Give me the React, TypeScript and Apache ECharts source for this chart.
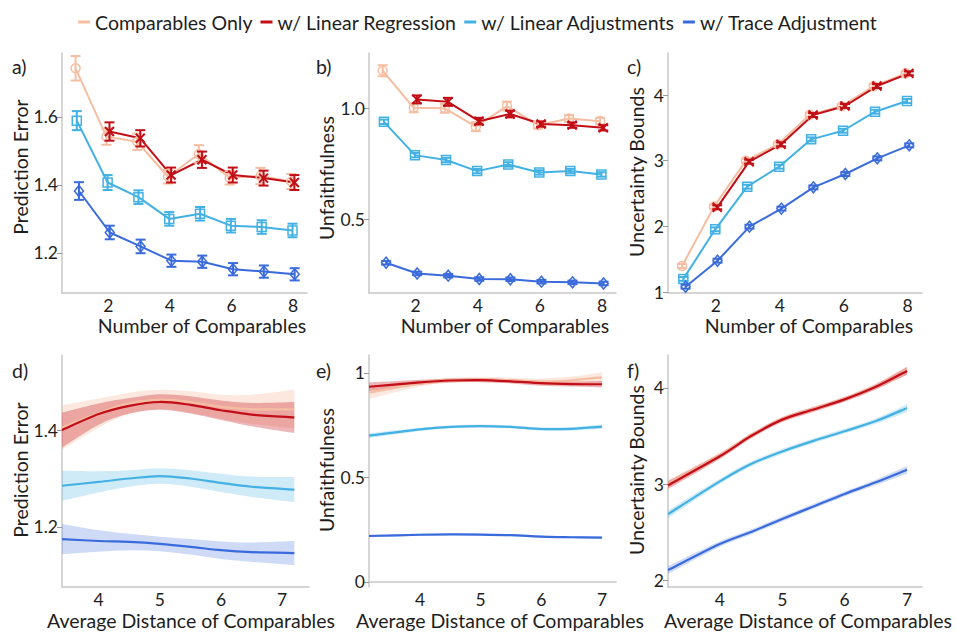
import React, { useEffect, useRef } from 'react';
import * as echarts from 'echarts';

const FONT = 'Lato, "Open Sans", sans-serif';
const TXT = '#1e1e1e';
const AXIS = '#c8c8c8';

const SERIES_NAMES = ['Comparables Only', 'w/ Linear Regression', 'w/ Linear Adjustments', 'w/ Trace Adjustment'];
const COLORS = ['#f5bea2', '#c20e17', '#43b1e3', '#3a6bdc'];
const BAND_ALPHA = [0.35, 0.3, 0.25, 0.25];
const SHAPES = ['circle', 'cross', 'square', 'diamond'];
const DODGE = [-0.06, 0.04, -0.02, 0.05];

// Top row: number of comparables
const N_COMP = [1, 2, 3, 4, 5, 6, 7, 8];

// a) Prediction error
const A_COMP = [1.743, 1.542, 1.527, 1.424, 1.491, 1.421, 1.426, 1.41];
const A_LR = [null, 1.557, 1.537, 1.429, 1.474, 1.429, 1.42, 1.407];
const A_LADJ = [1.589, 1.407, 1.364, 1.3, 1.315, 1.28, 1.276, 1.266];
const A_TRACE = [1.382, 1.26, 1.219, 1.177, 1.174, 1.152, 1.145, 1.137];
const A_COMP_ERR = [0.036, 0.024, 0.024, 0.02, 0.026, 0.02, 0.024, 0.022];
const A_LR_ERR = [0, 0.027, 0.024, 0.022, 0.024, 0.022, 0.022, 0.022];
const A_LADJ_ERR = [0.028, 0.022, 0.02, 0.02, 0.02, 0.02, 0.02, 0.02];
const A_TRACE_ERR = [0.026, 0.02, 0.02, 0.018, 0.018, 0.018, 0.018, 0.018];

// b) Unfaithfulness
const B_COMP = [1.168, 1.001, 0.999, 0.916, 1.009, 0.923, 0.953, 0.941];
const B_LR = [null, 1.039, 1.028, 0.941, 0.973, 0.928, 0.923, 0.911];
const B_LADJ = [0.938, 0.788, 0.766, 0.716, 0.746, 0.71, 0.716, 0.701];
const B_TRACE = [0.303, 0.255, 0.245, 0.23, 0.229, 0.218, 0.215, 0.21];
const B_COMP_ERR = [0.025, 0.02, 0.02, 0.02, 0.02, 0.015, 0.015, 0.015];
const B_LR_ERR = [0, 0.018, 0.018, 0.015, 0.015, 0.012, 0.012, 0.012];
const B_LADJ_ERR = [0.01, 0.01, 0.01, 0.01, 0.01, 0.01, 0.01, 0.01];
const B_TRACE_ERR = [0.008, 0.008, 0.008, 0.008, 0.008, 0.008, 0.008, 0.008];

// c) Uncertainty bounds
const C_COMP = [1.396, 2.3, 3.0, 3.25, 3.7, 3.83, 4.135, 4.33];
const C_LR = [null, 2.29, 2.985, 3.249, 3.695, 3.833, 4.137, 4.33];
const C_LADJ = [1.2, 1.955, 2.604, 2.909, 3.325, 3.456, 3.746, 3.909];
const C_TRACE = [1.081, 1.477, 1.995, 2.27, 2.594, 2.797, 3.036, 3.234];
const C_ERR = [0.03, 0.03, 0.03, 0.03, 0.03, 0.03, 0.03, 0.03];

// Bottom row: average distance of comparables
// d) Prediction error
const D_X = [3.4, 4, 4.5, 5, 5.5, 6, 6.5, 7.2];
const D_COMP = [1.405, 1.435, 1.455, 1.463, 1.458, 1.448, 1.443, 1.443];
const D_LR = [1.4, 1.433, 1.45, 1.458, 1.452, 1.441, 1.432, 1.426];
const D_LADJ = [1.285, 1.293, 1.3, 1.305, 1.3, 1.291, 1.283, 1.277];
const D_TRACE = [1.175, 1.171, 1.169, 1.165, 1.159, 1.152, 1.148, 1.146];
const D_COMP_BAND = [0.046, 0.03, 0.022, 0.02, 0.022, 0.025, 0.03, 0.04];
const D_LR_BAND = [0.036, 0.022, 0.016, 0.016, 0.018, 0.02, 0.024, 0.032];
const D_LADJ_BAND = [0.031, 0.022, 0.017, 0.016, 0.017, 0.019, 0.021, 0.026];
const D_TRACE_BAND = [0.031, 0.022, 0.017, 0.015, 0.016, 0.018, 0.02, 0.025];

// e) Unfaithfulness
const E_X = [3.16, 4, 4.5, 5, 5.5, 6, 6.5, 7];
const E_COMP = [0.906, 0.95, 0.965, 0.969, 0.965, 0.958, 0.965, 0.979];
const E_LR = [0.934, 0.955, 0.964, 0.966, 0.96, 0.951, 0.947, 0.946];
const E_LADJ = [0.7, 0.73, 0.742, 0.746, 0.742, 0.732, 0.733, 0.743];
const E_TRACE = [0.22, 0.226, 0.228, 0.227, 0.224, 0.217, 0.214, 0.212];
const E_COMP_BAND = [0.03, 0.015, 0.012, 0.012, 0.012, 0.015, 0.018, 0.025];
const E_LR_BAND = [0.02, 0.012, 0.01, 0.01, 0.01, 0.012, 0.012, 0.016];
const E_LADJ_BAND = [0.012, 0.008, 0.007, 0.007, 0.007, 0.008, 0.008, 0.01];
const E_TRACE_BAND = [0.006, 0.005, 0.005, 0.005, 0.005, 0.005, 0.005, 0.006];

// f) Uncertainty bounds
const F_X = [3.17, 4, 4.5, 5, 5.5, 6, 6.5, 7];
const F_COMP = [3.0, 3.3, 3.505, 3.675, 3.78, 3.885, 4.015, 4.18];
const F_LR = [2.99, 3.29, 3.5, 3.67, 3.775, 3.88, 4.01, 4.175];
const F_LADJ = [2.69, 3.03, 3.21, 3.34, 3.45, 3.55, 3.655, 3.79];
const F_TRACE = [2.11, 2.38, 2.505, 2.64, 2.77, 2.9, 3.02, 3.15];
const F_BAND = [0.04, 0.028, 0.025, 0.025, 0.025, 0.025, 0.028, 0.04];

// Tick labels
const TOP_X_TICKS = [2, 4, 6, 8];
const BOT_X_TICKS = [4, 5, 6, 7];
const A_Y_TICKS = [1.2, 1.4, 1.6];
const B_Y_TICKS = [0.5, 1.0];
const C_Y_TICKS = [1, 2, 3, 4];
const D_Y_TICKS = [1.2, 1.4];
const E_Y_TICKS = [0, 0.5, 1];
const F_Y_TICKS = [2, 3, 4];

const GRIDS = [
  { left: 62, top: 53, width: 245, height: 240 },
  { left: 369, top: 53, width: 247, height: 240 },
  { left: 668, top: 53, width: 254, height: 240 },
  { left: 62, top: 355, width: 247, height: 232 },
  { left: 369, top: 355, width: 247, height: 232 },
  { left: 668, top: 355, width: 254, height: 232 },
];

function rgba(hex: string, a: number) {
  const n = parseInt(hex.slice(1), 16);
  return `rgba(${(n >> 16) & 255},${(n >> 8) & 255},${n & 255},${a})`;
}

function xAxis(g: number, min: number, max: number, ticks: number[]) {
  return {
    type: 'value', gridIndex: g, min, max,
    axisLine: { show: true, lineStyle: { color: AXIS, width: 1.5 } },
    axisTick: { show: false },
    splitLine: { show: false },
    axisLabel: { customValues: ticks, fontSize: 17.5, color: TXT, fontFamily: FONT, margin: 3 },
  };
}

function yAxis(g: number, min: number, max: number, ticks: number[], fmt: (v: number) => string) {
  return {
    type: 'value', gridIndex: g, min, max,
    axisLine: { show: true, lineStyle: { color: AXIS, width: 1.5 } },
    axisTick: { show: true, length: 5, customValues: ticks, lineStyle: { color: '#999', width: 1 } },
    splitLine: { show: false },
    axisLabel: { customValues: ticks, fontSize: 17.5, color: TXT, fontFamily: FONT, margin: 4, formatter: fmt },
  };
}

function markerSeries(g: number, ys: (number | null)[], errs: number[], k: number) {
  const color = COLORS[k];
  const shape = SHAPES[k];
  const data: number[][] = [];
  N_COMP.forEach((x, i) => {
    const y = ys[i];
    if (y == null) return;
    data.push([x + DODGE[k], y, y - errs[i], y + errs[i]]);
  });
  return {
    type: 'custom', xAxisIndex: g, yAxisIndex: g, z: 5, silent: true,
    data, encode: { x: 0, y: [1, 2, 3] },
    renderItem: (_p: any, api: any) => {
      const x = api.value(0), y = api.value(1), lo = api.value(2), hi = api.value(3);
      const c = api.coord([x, y]);
      const l = api.coord([x, lo]);
      const h = api.coord([x, hi]);
      const cap = 5;
      const s = 4.5;
      const st = { stroke: color, lineWidth: 2 };
      const ms = { stroke: color, lineWidth: 1.5, fill: 'none' };
      const children: any[] = [
        { type: 'line', shape: { x1: c[0], y1: l[1], x2: c[0], y2: h[1] }, style: st },
        { type: 'line', shape: { x1: c[0] - cap, y1: l[1], x2: c[0] + cap, y2: l[1] }, style: st },
        { type: 'line', shape: { x1: c[0] - cap, y1: h[1], x2: c[0] + cap, y2: h[1] }, style: st },
      ];
      if (shape === 'circle') {
        children.push({ type: 'circle', shape: { cx: c[0], cy: c[1], r: s }, style: ms });
      } else if (shape === 'square') {
        children.push({ type: 'rect', shape: { x: c[0] - s, y: c[1] - s, width: 2 * s, height: 2 * s }, style: ms });
      } else if (shape === 'diamond') {
        children.push({
          type: 'polygon',
          shape: { points: [[c[0], c[1] - s - 1], [c[0] + s, c[1]], [c[0], c[1] + s + 1], [c[0] - s, c[1]]] },
          style: ms,
        });
      } else {
        children.push({ type: 'line', shape: { x1: c[0] - s, y1: c[1] - s, x2: c[0] + s, y2: c[1] + s }, style: { stroke: color, lineWidth: 2 } });
        children.push({ type: 'line', shape: { x1: c[0] - s, y1: c[1] + s, x2: c[0] + s, y2: c[1] - s }, style: { stroke: color, lineWidth: 2 } });
      }
      return { type: 'group', children };
    },
  };
}

function topLine(g: number, ys: (number | null)[], k: number) {
  const data: number[][] = [];
  N_COMP.forEach((x, i) => {
    const y = ys[i];
    if (y != null) data.push([x + DODGE[k], y]);
  });
  return {
    type: 'line', name: SERIES_NAMES[k], xAxisIndex: g, yAxisIndex: g, data,
    showSymbol: false, symbol: 'none', z: 3, silent: true,
    lineStyle: { color: COLORS[k], width: 2 }, itemStyle: { color: COLORS[k] },
  };
}

function topPanel(g: number, sets: (number | null)[][], errs: number[][]) {
  const out: any[] = [];
  sets.forEach((ys, k) => out.push(topLine(g, ys, k)));
  sets.forEach((ys, k) => out.push(markerSeries(g, ys, errs[k], k)));
  return out;
}

// Catmull-Rom spline through pixel points, as cubic bezier path segments
function spline(pts: number[][]) {
  let d = '';
  const n = pts.length;
  for (let i = 0; i < n - 1; i++) {
    const p0 = pts[Math.max(i - 1, 0)], p1 = pts[i], p2 = pts[i + 1], p3 = pts[Math.min(i + 2, n - 1)];
    const c1x = p1[0] + (p2[0] - p0[0]) / 6, c1y = p1[1] + (p2[1] - p0[1]) / 6;
    const c2x = p2[0] - (p3[0] - p1[0]) / 6, c2y = p2[1] - (p3[1] - p1[1]) / 6;
    d += ` C${c1x},${c1y} ${c2x},${c2y} ${p2[0]},${p2[1]}`;
  }
  return d;
}

function bandSeries(g: number, xs: number[], ys: number[], band: number[], k: number) {
  return {
    type: 'custom', xAxisIndex: g, yAxisIndex: g, z: 1, silent: true,
    data: [[xs[0], ys[0]]], encode: { x: 0, y: 1 },
    renderItem: (_p: any, api: any) => {
      const top = xs.map((x, i) => api.coord([x, ys[i] + band[i]]));
      const bot = xs.map((x, i) => api.coord([x, ys[i] - band[i]])).reverse();
      const d = `M${top[0][0]},${top[0][1]}` + spline(top) + ` L${bot[0][0]},${bot[0][1]}` + spline(bot) + ' Z';
      return { type: 'path', shape: { pathData: d }, style: { fill: rgba(COLORS[k], BAND_ALPHA[k]), stroke: 'none' } };
    },
  };
}

function curveSeries(g: number, xs: number[], ys: number[], k: number) {
  return {
    type: 'custom', xAxisIndex: g, yAxisIndex: g, z: 3, silent: true,
    data: [[xs[0], ys[0]]], encode: { x: 0, y: 1 },
    renderItem: (_p: any, api: any) => {
      const pts = xs.map((x, i) => api.coord([x, ys[i]]));
      const d = `M${pts[0][0]},${pts[0][1]}` + spline(pts);
      return { type: 'path', shape: { pathData: d }, style: { fill: 'none', stroke: COLORS[k], lineWidth: 2.2 } };
    },
  };
}

function botPanel(g: number, xs: number[], sets: number[][], bands: number[][]) {
  const out: any[] = [];
  sets.forEach((ys, k) => out.push(bandSeries(g, xs, ys, bands[k], k)));
  sets.forEach((ys, k) => out.push(curveSeries(g, xs, ys, k)));
  return out;
}

function txt(text: string, x: number, y: number, rot = 0, align = 'center') {
  return {
    type: 'text', x, y, rotation: rot, silent: true,
    style: {
      text, fill: TXT, fontSize: 19.5, fontFamily: FONT,
      textAlign: align, align, textVerticalAlign: 'middle', verticalAlign: 'middle',
    },
  };
}

const f1 = (v: number) => v.toFixed(1);
const fs = (v: number) => String(v);

export default function App() {
  const ref = useRef<HTMLDivElement>(null);
  useEffect(() => {
    if (!ref.current) return;
    const chart = echarts.init(ref.current, undefined, { renderer: 'svg' });
    const series = [
      ...topPanel(0, [A_COMP, A_LR, A_LADJ, A_TRACE], [A_COMP_ERR, A_LR_ERR, A_LADJ_ERR, A_TRACE_ERR]),
      ...topPanel(1, [B_COMP, B_LR, B_LADJ, B_TRACE], [B_COMP_ERR, B_LR_ERR, B_LADJ_ERR, B_TRACE_ERR]),
      ...topPanel(2, [C_COMP, C_LR, C_LADJ, C_TRACE], [C_ERR, C_ERR, C_ERR, C_ERR]),
      ...botPanel(3, D_X, [D_COMP, D_LR, D_LADJ, D_TRACE], [D_COMP_BAND, D_LR_BAND, D_LADJ_BAND, D_TRACE_BAND]),
      ...botPanel(4, E_X, [E_COMP, E_LR, E_LADJ, E_TRACE], [E_COMP_BAND, E_LR_BAND, E_LADJ_BAND, E_TRACE_BAND]),
      ...botPanel(5, F_X, [F_COMP, F_LR, F_LADJ, F_TRACE], [F_BAND, F_BAND, F_BAND, F_BAND]),
    ];
    chart.setOption({
      animation: false,
      backgroundColor: '#ffffff',
      legend: {
        data: SERIES_NAMES, left: 'center', top: 7, icon: 'rect', itemWidth: 12, itemHeight: 3, itemGap: 8,
        textStyle: { fontSize: 19.5, fontFamily: FONT, color: TXT }, selectedMode: false,
      },
      grid: GRIDS,
      xAxis: [
        xAxis(0, 0.5, 8.45, TOP_X_TICKS),
        xAxis(1, 0.5, 8.45, TOP_X_TICKS),
        xAxis(2, 0.5, 8.45, TOP_X_TICKS),
        xAxis(3, 3.4, 7.44, BOT_X_TICKS),
        xAxis(4, 3.16, 7.23, BOT_X_TICKS),
        xAxis(5, 3.17, 7.24, BOT_X_TICKS),
      ],
      yAxis: [
        yAxis(0, 1.082, 1.788, A_Y_TICKS, f1),
        yAxis(1, 0.167, 1.248, B_Y_TICKS, f1),
        yAxis(2, 0.985, 4.64, C_Y_TICKS, fs),
        yAxis(3, 1.076, 1.555, D_Y_TICKS, f1),
        yAxis(4, -0.024, 1.086, E_Y_TICKS, fs),
        yAxis(5, 1.935, 4.34, F_Y_TICKS, fs),
      ],
      graphic: [
        txt('a)', 12, 66, 0, 'left'),
        txt('b)', 316, 66, 0, 'left'),
        txt('c)', 627, 66, 0, 'left'),
        txt('d)', 12, 370, 0, 'left'),
        txt('e)', 316, 370, 0, 'left'),
        txt('f)', 627, 370, 0, 'left'),
        txt('Number of Comparables', 202, 325),
        txt('Number of Comparables', 505, 325),
        txt('Number of Comparables', 809, 325),
        txt('Average Distance of Comparables', 191, 620),
        txt('Average Distance of Comparables', 500, 620),
        txt('Average Distance of Comparables', 808, 620),
        txt('Prediction Error', 20, 167, Math.PI / 2),
        txt('Unfaithfulness', 326, 178, Math.PI / 2),
        txt('Uncertainty Bounds', 636, 172, Math.PI / 2),
        txt('Prediction Error', 20, 470, Math.PI / 2),
        txt('Unfaithfulness', 326, 470, Math.PI / 2),
        txt('Uncertainty Bounds', 636, 470, Math.PI / 2),
      ],
      series,
    });
    return () => chart.dispose();
  }, []);
  return <div ref={ref} style={{ position: 'fixed', left: 0, top: 0, width: 956, height: 633 }} />;
}
